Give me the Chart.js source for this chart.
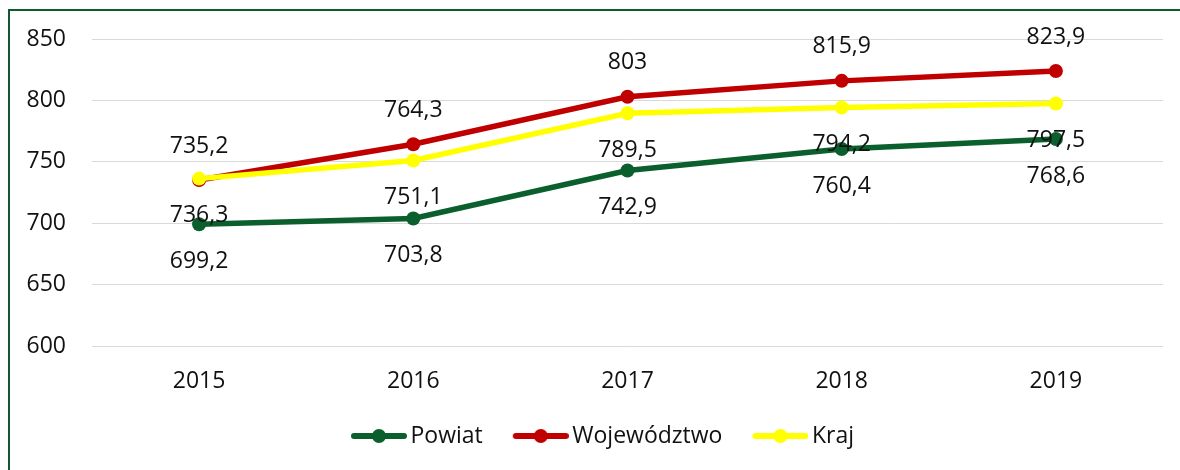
<!DOCTYPE html>
<html>
<head>
<meta charset="utf-8">
<script src="https://cdn.jsdelivr.net/npm/chart.js@4"></script>
<style>
  body { margin: 0; background: #fff; }
  #frame {
    position: absolute; left: 8px; top: 9px;
    width: 1172px; height: 461px;
    border-top: 2px solid #0f5a2f; border-left: 2px solid #0f5a2f;
  }
  #frame canvas { display: block; }
</style>
</head>
<body>
<div id="frame"><canvas id="chart" width="1170" height="459"></canvas></div>
<script>
const years = ['2015', '2016', '2017', '2018', '2019'];
const powiat = [699.2, 703.8, 742.9, 760.4, 768.6];
const wojewodztwo = [735.2, 764.3, 803, 815.9, 823.9];
const kraj = [736.3, 751.1, 789.5, 794.2, 797.5];
const yTicks = [600, 650, 700, 750, 800, 850];

const FONT = { family: '"Open Sans", "Noto Sans", sans-serif', size: 23 };
const colors = ['#0a5f2d', '#c00000', '#ffff00'];
// vertical shift of the value labels for each series (px)
const labelShift = [37, -34, 37];

// line+dot icon for the legend, pushed to the right of its canvas
// so the gap before the text is small and the gap after it is wide
function legendIcon(color) {
    const c = document.createElement('canvas');
    c.width = 80;
    c.height = 18;
    const g = c.getContext('2d');
    const x0 = 24;
    g.strokeStyle = color;
    g.lineWidth = 6;
    g.lineCap = 'round';
    g.beginPath();
    g.moveTo(x0 + 3, 9);
    g.lineTo(x0 + 53, 9);
    g.stroke();
    g.fillStyle = color;
    g.beginPath();
    g.arc(x0 + 28, 9, 7, 0, Math.PI * 2);
    g.fill();
    return c;
}
const icons = colors.map(legendIcon);

// draw value labels above / below points
const valueLabels = {
    id: 'valueLabels',
    afterDatasetsDraw(chart) {
        const ctx = chart.ctx;
        ctx.save();
        ctx.font = FONT.size + 'px ' + FONT.family;
        ctx.fillStyle = '#111';
        ctx.textAlign = 'center';
        ctx.textBaseline = 'middle';
        chart.data.datasets.forEach((ds, i) => {
            const meta = chart.getDatasetMeta(i);
            meta.data.forEach((pt, j) => {
                const txt = String(ds.data[j]).replace('.', ',');
                ctx.fillText(txt, pt.x, pt.y + labelShift[i]);
            });
        });
        ctx.restore();
    }
};

function series(label, data, color, order) {
    return {
        label: label,
        data: data,
        borderColor: color,
        backgroundColor: color,
        borderWidth: 5.5,
        pointRadius: 7,
        pointHoverRadius: 7,
        pointBorderWidth: 0,
        tension: 0,
        order: order
    };
}

new Chart(document.getElementById('chart'), {
    type: 'line',
    data: {
        labels: years,
        datasets: [
            series('Powiat', powiat, colors[0], 3),
            series('Województwo', wojewodztwo, colors[1], 2),
            series('Kraj', kraj, colors[2], 1)
        ]
    },
    options: {
        responsive: false,
        animation: false,
        layout: { padding: { left: 16, right: 17, top: 28, bottom: 12.5 } },
        scales: {
            x: {
                offset: true,
                grid: { display: false, drawTicks: false },
                border: { display: false },
                ticks: { color: '#111', font: FONT, padding: 22 },
                afterFit: (scale) => { scale.height = 64.5; }
            },
            y: {
                min: 600,
                max: 850,
                afterBuildTicks: (scale) => { scale.ticks = yTicks.map(v => ({ value: v })); },
                afterFit: (scale) => {
                    scale.width = 66;
                    scale.paddingTop = 0;
                    scale.paddingBottom = 0;
                },
                grid: { color: '#d9d9d9', lineWidth: 1, drawTicks: false },
                border: { display: false },
                ticks: { color: '#111', font: FONT, padding: 26 }
            }
        },
        plugins: {
            tooltip: { enabled: false },
            legend: {
                position: 'bottom',
                labels: {
                    usePointStyle: true,
                    pointStyleWidth: 64,
                    padding: 14,
                    color: '#111',
                    font: FONT,
                    sort: (a, b) => a.datasetIndex - b.datasetIndex,
                    generateLabels: (chart) => {
                        const items = Chart.defaults.plugins.legend.labels.generateLabels(chart);
                        items.forEach(it => { it.pointStyle = icons[it.datasetIndex]; });
                        return items;
                    }
                }
            }
        }
    },
    plugins: [valueLabels]
});
</script>
</body>
</html>
